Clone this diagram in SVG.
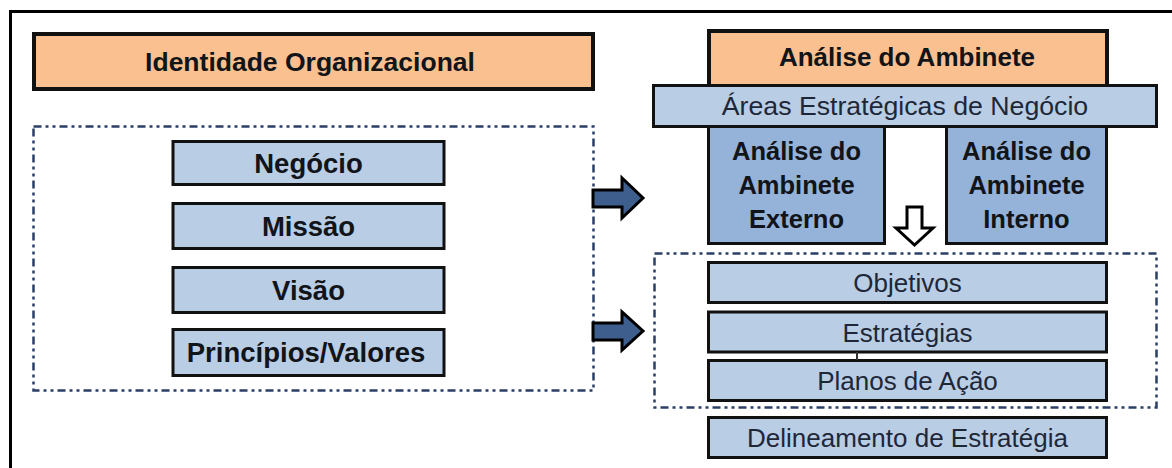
<svg xmlns="http://www.w3.org/2000/svg" width="1172" height="468" viewBox="0 0 1172 468">
<style>
.t{font-family:"Liberation Sans",Arial,sans-serif;text-anchor:middle}
.b{font-weight:bold;fill:#111418}
.r{fill:#1e2738}
.blue{fill:#B9CDE5;stroke:#111;stroke-width:3}
.mid{fill:#95B2D9;stroke:#111;stroke-width:3}
.org{fill:#FAC08F;stroke:#111;stroke-width:4}
.dash{fill:none;stroke:#2B3F66;stroke-width:2.5;stroke-dasharray:8 4 3 4 3 4}
.arr{fill:#3E5F8E;stroke:#000;stroke-width:3;stroke-linejoin:miter}
</style>
<rect width="1172" height="468" fill="#fff"/>
<rect x="10.5" y="11.5" width="1200" height="500" fill="none" stroke="#000" stroke-width="3"/>

<g id="identidade">
<rect class="org" x="34" y="34" width="559" height="55"/>
<text class="t b" x="310" y="71" font-size="26.5">Identidade Organizacional</text>
</g>
<g id="grupo-identidade">
<rect class="dash" x="33.5" y="126.5" width="560" height="264"/>
</g>
<g id="negocio">
<rect class="blue" x="173" y="141.5" width="271" height="43"/>
<text class="t b" x="308.5" y="172.5" font-size="27.5">Negócio</text>
</g>
<g id="missao">
<rect class="blue" x="173" y="203.5" width="271" height="45"/>
<text class="t b" x="308.5" y="235.5" font-size="27.5">Missão</text>
</g>
<g id="visao">
<rect class="blue" x="173" y="267.5" width="271" height="45"/>
<text class="t b" x="308.5" y="299.5" font-size="27.5">Visão</text>
</g>
<g id="principios">
<rect class="blue" x="173" y="329.5" width="271" height="46"/>
<text class="t b" x="306" y="362" font-size="27.5">Princípios/Valores</text>
</g>

<g id="analise-ambiente">
<rect class="org" x="709" y="31" width="398" height="60" stroke-width="3.5"/>
<text class="t b" x="907" y="66" font-size="26">Análise do Ambinete</text>
</g>
<g id="areas">
<rect class="blue" x="653.5" y="85.5" width="503" height="41"/>
<text class="t r" x="905" y="115" font-size="26.7">Áreas Estratégicas de Negócio</text>
</g>
<g id="externo">
<rect class="mid" x="708.5" y="126.5" width="176" height="117"/>
<text class="t b" x="796.5" y="159.5" font-size="25.5">Análise do</text>
<text class="t b" x="796.5" y="193.5" font-size="25.5">Ambinete</text>
<text class="t b" x="796.5" y="227.5" font-size="25.5">Externo</text>
</g>
<g id="interno">
<rect class="mid" x="946.5" y="126.5" width="160" height="117"/>
<text class="t b" x="1026.5" y="159.5" font-size="25.5">Análise do</text>
<text class="t b" x="1026.5" y="193.5" font-size="25.5">Ambinete</text>
<text class="t b" x="1026.5" y="227.5" font-size="25.5">Interno</text>
</g>
<g id="grupo-estrategia">
<rect class="dash" x="654.5" y="253.5" width="502" height="154"/>
</g>
<g id="objetivos">
<rect class="blue" x="708.5" y="262.5" width="398" height="40"/>
<text class="t r" x="907.5" y="292" font-size="26">Objetivos</text>
</g>
<g id="estrategias">
<rect class="blue" x="708.5" y="312" width="398" height="40"/>
<text class="t r" x="907.5" y="341.5" font-size="26">Estratégias</text>
</g>
<g id="planos">
<rect class="blue" x="708.5" y="360.5" width="398" height="40"/>
<text class="t r" x="907.5" y="390" font-size="26">Planos de Ação</text>
</g>
<g id="delineamento">
<rect class="blue" x="708.5" y="417.5" width="398" height="40"/>
<text class="t r" x="907.5" y="447" font-size="26">Delineamento de Estratégia</text>
</g>

<g id="connectors">
<polygon class="arr" points="593,190 622,190 622,178 643,198 622,218 622,207 593,207"/>
<polygon class="arr" points="593,323 622,323 622,312 643,331 622,350 622,340 593,340"/>
<polygon points="907,207 922,207 922,228 933,228 914.5,245 896,228 907,228" fill="#fff" stroke="#000" stroke-width="3"/>
<line x1="857" y1="352" x2="857" y2="360" stroke="#333" stroke-width="2"/>
</g>
</svg>
